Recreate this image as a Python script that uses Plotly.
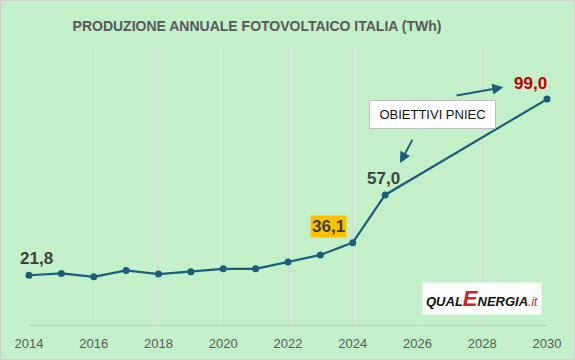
import plotly.graph_objects as go

years = [2014, 2015, 2016, 2017, 2018, 2019, 2020, 2021, 2022, 2023, 2024, 2025, 2030]
values = [21.8, 22.6, 21.1, 23.9, 22.3, 23.3, 24.6, 24.6, 27.6, 30.7, 36.1, 57.0, 99.0]
tick_years = [2014, 2016, 2018, 2020, 2022, 2024, 2026, 2028, 2030]
title_text = "PRODUZIONE ANNUALE FOTOVOLTAICO ITALIA (TWh)"
target_label = "OBIETTIVI PNIEC"

W, H = 575, 360
ML, MR, MT, MB = 29, 28, 48, 35
pw, ph = W - ML - MR, H - MT - MB

LINE = "#1B5E7B"
BG = "#C4F0C9"

fig = go.Figure()
fig.add_trace(go.Scatter(
    x=years, y=values, mode="lines+markers",
    line=dict(color=LINE, width=2.2),
    marker=dict(color=LINE, size=7),
    cliponaxis=False,
    hoverinfo="skip", showlegend=False,
))

def fmt(v):
    return f"{v:.1f}".replace(".", ",")

lab_font = dict(family="Liberation Sans, Arial, sans-serif", size=17, color="#404040")
fig.add_annotation(x=years[0], y=values[0], text="<b>" + fmt(values[0]) + "</b>",
                   showarrow=False, xanchor="center", yanchor="bottom", xshift=7, yshift=5,
                   font=lab_font)
fig.add_annotation(x=years[10], y=values[10], text="<b>" + fmt(values[10]) + "</b>",
                   showarrow=False, xanchor="center", yanchor="middle", xshift=-24, yshift=16,
                   bgcolor="#FFC000", borderpad=1, font=lab_font)
fig.add_annotation(x=years[11], y=values[11], text="<b>" + fmt(values[11]) + "</b>",
                   showarrow=False, xanchor="center", yanchor="middle", xshift=-2, yshift=16,
                   font=lab_font)
fig.add_annotation(x=years[12], y=values[12], text="<b>" + fmt(values[12]) + "</b>",
                   showarrow=False, xanchor="center", yanchor="middle", xshift=-17, yshift=16,
                   font=dict(family="Liberation Sans, Arial, sans-serif", size=17, color="#C00000"))

fig.add_annotation(x=2026.45, y=92.1, text=target_label, showarrow=False,
                   xanchor="center", yanchor="middle",
                   bgcolor="white", bordercolor="#BFBFBF", borderwidth=1,
                   width=123, height=25,
                   font=dict(family="Liberation Sans, Arial, sans-serif", size=13, color="#111111"))

fig.add_annotation(x=2028.65, y=104.2, ax=2027.16, ay=100.5, axref="x", ayref="y",
                   xref="x", yref="y", text="", showarrow=True,
                   arrowhead=2, arrowsize=1.1, arrowwidth=2, arrowcolor=LINE)
fig.add_annotation(x=2025.46, y=71.0, ax=2025.87, ay=81.9, axref="x", ayref="y",
                   xref="x", yref="y", text="", showarrow=True,
                   arrowhead=2, arrowsize=1.1, arrowwidth=2, arrowcolor=LINE)

fig.add_annotation(x=2028.0, y=11.4, xref="x", yref="y",
                   text="<b><i>QUAL<span style='color:#C1272D;font-size:22px'>E</span>NERGIA</i></b>"
                        "<i><span style='color:#C1272D;font-size:12px'>.it</span></i>",
                   showarrow=False, xanchor="center", yanchor="middle",
                   bgcolor="white", borderpad=3,
                   font=dict(family="Liberation Sans, Arial, sans-serif", size=13, color="#111111"))

fig.add_shape(type="rect", xref="paper", yref="paper",
              x0=-(ML - 0.5) / pw, x1=1 + (MR - 0.5) / pw,
              y0=-(MB - 0.5) / ph, y1=1 + (MT - 0.5) / ph,
              line=dict(color="#CFCFCF", width=1), fillcolor="rgba(0,0,0,0)", layer="below")

fig.update_layout(
    width=W, height=H,
    margin=dict(l=ML, r=MR, t=MT, b=MB, autoexpand=False),
    paper_bgcolor=BG, plot_bgcolor=BG,
    title=dict(text="<b>" + title_text + "</b>", x=257 / W, xanchor="center", y=1 - 26 / H, yanchor="middle",
               font=dict(family="Liberation Sans, Arial, sans-serif", size=14, color="#595959")),
    xaxis=dict(range=[2014, 2030], tickvals=tick_years, ticktext=[str(t) for t in tick_years],
               showgrid=True, gridcolor="#D3DDD3", gridwidth=1, automargin=False,
               showline=True, linecolor="#C8C8C8", linewidth=1, zeroline=False,
               ticks="", ticklabelstandoff=6,
               tickfont=dict(family="Liberation Sans, Arial, sans-serif", size=13, color="#595959")),
    yaxis=dict(range=[0, 121.4], showgrid=False, showticklabels=False, zeroline=False, showline=False,
               automargin=False),
)

fig.write_html("out.html", config={"displayModeBar": False},
               post_script="document.body.style.margin='0';document.body.style.overflow='hidden';")
